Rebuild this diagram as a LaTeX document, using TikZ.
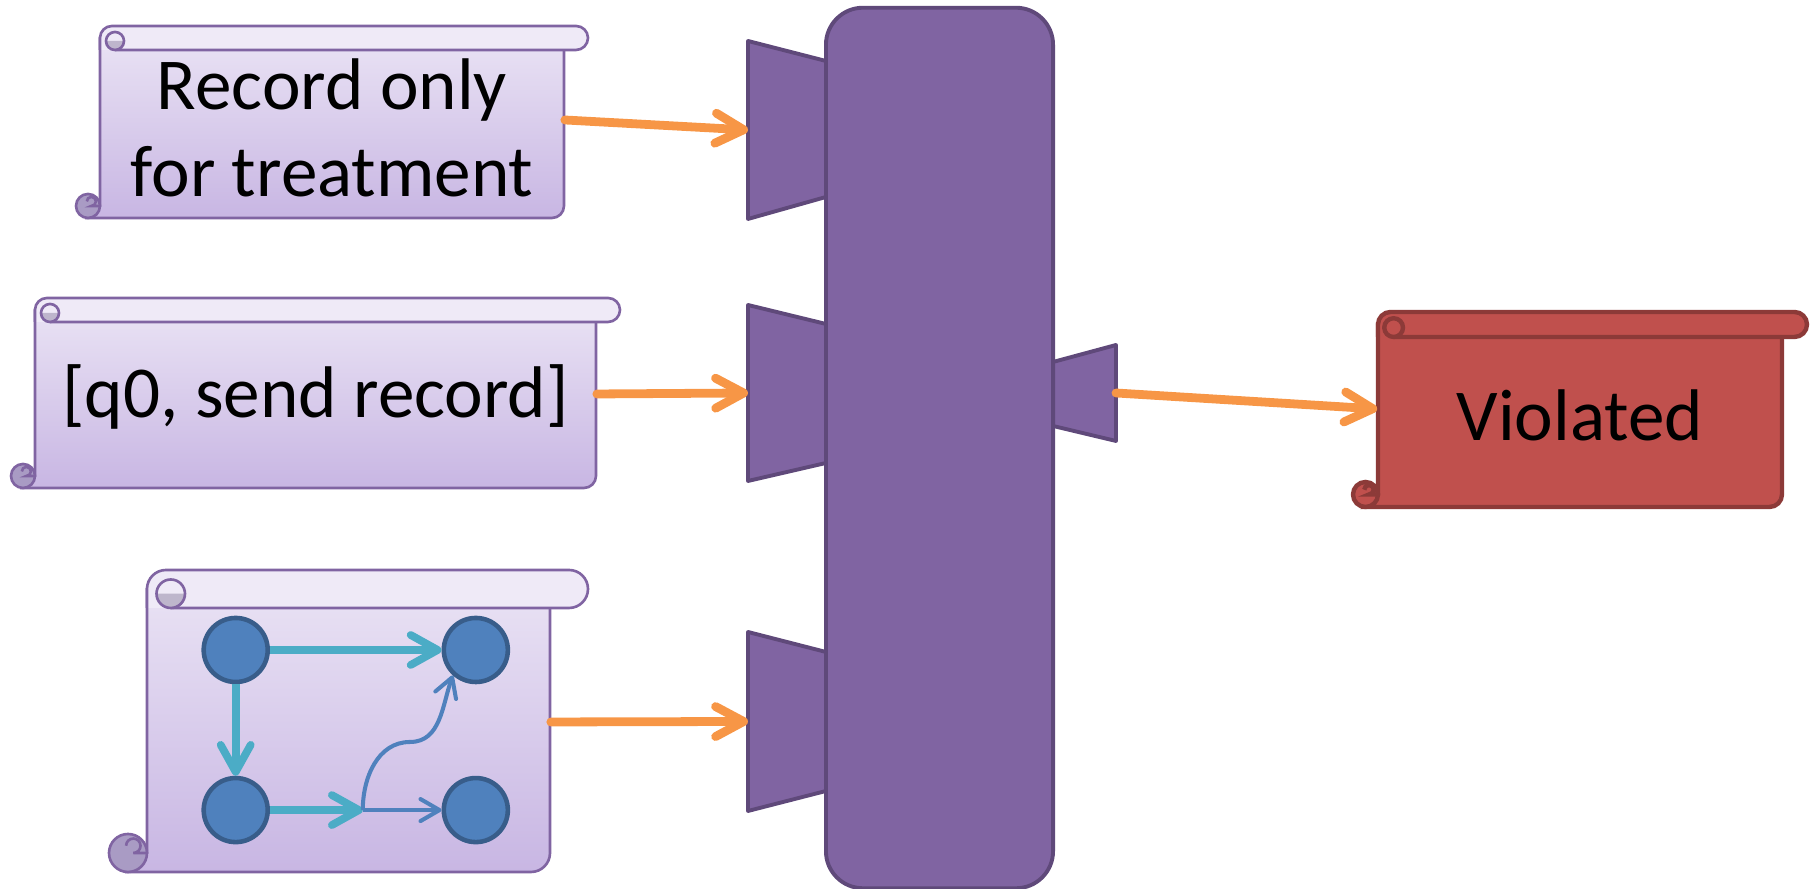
\documentclass[tikz,border=0pt]{standalone}
\usepackage{fontspec}
\setmainfont{Carlito}
\usetikzlibrary{arrows.meta, positioning}

\definecolor{rolltop}{HTML}{EFEAF7}
\definecolor{scrolltop}{HTML}{E9E2F4}
\definecolor{scrollbottom}{HTML}{C8B6E3}
\definecolor{scrollline}{HTML}{8064A2}
\definecolor{scrollear}{HTML}{BEB6CC}
\definecolor{scrollcurl}{HTML}{A99BC4}
\definecolor{gatefill}{HTML}{8064A2}
\definecolor{gateline}{HTML}{5F497A}
\definecolor{feedorange}{HTML}{F79646}
\definecolor{alarmfill}{HTML}{C0504D}
\definecolor{alarmline}{HTML}{8C3A38}
\definecolor{statefill}{HTML}{4F81BD}
\definecolor{stateline}{HTML}{385D8A}
\definecolor{stepline}{HTML}{4BACC6}

\tikzset{
  memo/.style={draw=scrollline, line width=0.75pt},
  memo body/.style={top color=scrolltop, bottom color=scrollbottom},
  memo roll/.style={fill=rolltop},
  memo ear/.style={fill=scrollear},
  memo curl/.style={fill=scrollcurl},
  alarm/.style={draw=alarmline, line width=1.25pt},
  alarm body/.style={fill=alarmfill},
  alarm roll/.style={fill=alarmfill},
  alarm ear/.style={fill=alarmfill},
  alarm curl/.style={fill=alarmfill},
  memotext/.style={inner sep=0pt, align=center},
  gate/.style={draw=gateline, fill=gatefill, line width=1.1pt, line join=round},
  bar/.style={rectangle, rounded corners=0.37cm, draw=gateline, fill=gatefill,
    line width=1.1pt, minimum width=2.27cm, minimum height=8.8cm},
  feed/.style={draw=feedorange, line width=2.5pt, line cap=round,
    -{Straight Barb[length=0.28cm, width=0.3cm, round]}},
  vertex/.style={circle, draw=stateline, fill=statefill, line width=1.3pt,
    minimum size=0.64cm, inner sep=0pt},
  move/.style={draw=stepline, line width=2.2pt,
    -{Straight Barb[length=0.27cm, width=0.3cm, round]}},
  branch/.style={draw=statefill, line width=1.15pt,
    -{Straight Barb[length=0.19cm, width=0.22cm, round]}}
}

% scroll: left, right, roll top, bottom, roll size, style
\newcommand{\drawscroll}[6]{%
  \pgfmathsetmacro\rollh{#5/2}%
  \pgfmathsetmacro\earx{#1+0.625*#5}%
  \pgfmathsetmacro\eary{#3-0.625*#5}%
  \pgfmathsetmacro\earr{0.375*#5}%
  \pgfmathsetmacro\curlx{#1-0.36*#5}%
  \pgfmathsetmacro\curlr{0.19*#5}%
  \draw[#6, #6 body] (#1,#3-\rollh) -- (#1,#4+\rollh) -- (#1-\rollh,#4) -- (#2-\rollh,#4)
    arc(-90:0:\rollh) -- (#2,#3-\rollh) -- cycle;
  \fill[#6 roll] (#1,#3-#5) -- (#1,#3-\rollh) arc(180:90:\rollh) -- (#2+\rollh,#3)
    arc(90:-90:\rollh) -- cycle;
  \draw[#6] (#1,#3-#5) -- (#1,#3-\rollh) arc(180:90:\rollh) -- (#2+\rollh,#3)
    arc(90:-90:\rollh) -- (\earx,#3-#5);
  \fill[#6 ear] (\earx-\earr,\eary) arc(180:360:\earr) -- cycle;
  \draw[#6] (\earx,\eary) circle(\earr);
  \draw[#6, #6 curl] (#1-\rollh,#4+\rollh) circle(\rollh);
  \draw[#6] (#1,#4+\rollh) -- (\curlx,#4+\rollh) arc(-90:180:\curlr);
}

\begin{document}
\begin{tikzpicture}[x=0.01cm, y=0.01cm, font=\fontsize{20.8}{24.6}\selectfont]
\useasboundingbox (0,0) rectangle (1817,889);

% monitor
\draw[gate] (748,848) -- (826,828) -- (826,692) -- (748,670) -- cycle;
\draw[gate] (748,584) -- (826,565) -- (826,426) -- (748,408) -- cycle;
\draw[gate] (748,257) -- (826,237) -- (826,98) -- (748,78) -- cycle;
\draw[gate] (1053,527) -- (1116,544) -- (1116,448) -- (1053,463) -- cycle;
\node[bar] (bar) at (939.5,441) {};
\coordinate (in1) at (748,759);
\coordinate (in2) at (748,496);
\coordinate (in3) at (748,167.5);
\coordinate (out) at (1116,496);

% inputs and verdict
\drawscroll{100}{564}{863}{671}{24}{memo}
\node[memotext, minimum width=4.64cm, minimum height=1.68cm] (rec) at (332,761) {Record only\\for treatment};
\drawscroll{35}{596}{591}{401}{24}{memo}
\node[memotext, minimum width=5.61cm, minimum height=1.66cm] (q0) at (315.5,492) {[q0, send record]};
\drawscroll{147}{550}{319}{17}{38}{memo}
\node[memotext, minimum width=4.03cm, minimum height=2.64cm] (net) at (348.5,149) {};
\drawscroll{1378}{1782}{577}{382}{25}{alarm}
\node[memotext, minimum width=4.04cm, minimum height=1.70cm] (viol) at (1580,474) {Violated};

% automaton
\node[vertex] (v1) at (235.7,239) {};
\node[vertex, right of=v1, node distance=2.4cm] (v2) {};
\node[vertex, below of=v1, node distance=1.6cm] (v3) {};
\node[vertex, right of=v3, node distance=2.4cm] (v4) {};
\coordinate[right of=v3, node distance=1.27cm] (j);
\draw[move] (v1) -- (v2);
\draw[move] (v1) -- (v3);
\draw[move] (v3) -- (j);
\draw[branch] (j) -- (v4);
\draw[branch] (j) to[out=90,in=180] (410,147) to[out=0,in=250] (v2.228);

% feeds
\draw[feed] ([yshift=0.08cm]rec.east) -- (in1);
\draw[feed] ([yshift=0.03cm]q0.east) -- (in2);
\draw[feed] ([yshift=0.18cm]net.east) -- (in3);
\draw[feed] (out) -- ([yshift=0.06cm]viol.west);
\end{tikzpicture}
\end{document}
